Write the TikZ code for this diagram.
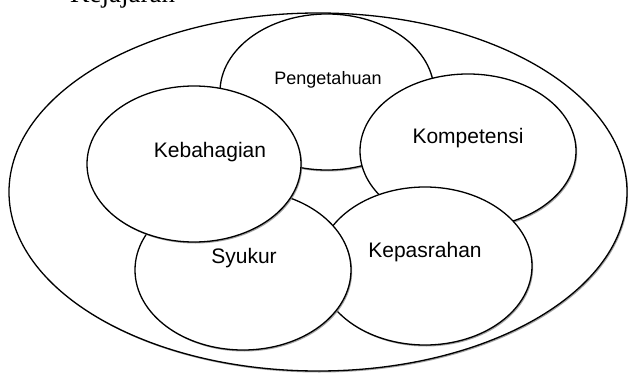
\documentclass[tikz,border=0pt]{standalone}
\usepackage{fontspec}
\setmainfont{Liberation Sans}
\newfontfamily\titlefont{Liberation Serif}
\usetikzlibrary{shapes.geometric,shadows}
\begin{document}
\begin{tikzpicture}[x=1pt,y=-1pt,
  ell/.style={ellipse, draw=black, line width=1.3pt, fill=white, inner sep=0pt,
    drop shadow={shadow xshift=1.2pt, shadow yshift=-1.5pt, fill=black!45, opacity=0.8}},
  lbl/.style={font=\fontsize{21}{23}\selectfont, inner sep=0pt},
  slbl/.style={font=\fontsize{18}{20}\selectfont, inner sep=0pt}]
\useasboundingbox (0,0) rectangle (628,374);
\clip (0,0) rectangle (628,374);
\fill[white] (0,0) rectangle (628,374);
\node[anchor=base west, inner sep=0pt, font=\titlefont\fontsize{27}{29}\selectfont] (title) at (70,3) {Kejajaran};
\node[ell, minimum width=618pt, minimum height=358pt] (big) at (318,192) {};
\node[ell, minimum width=214pt, minimum height=156pt] (pe) at (327,92) {};
\node[ell, minimum width=216pt, minimum height=154pt] (ko) at (468,151) {};
\node[ell, minimum width=214pt, minimum height=158pt] (ka) at (425,266) {};
\node[ell, minimum width=216pt, minimum height=160pt] (sy) at (243,270) {};
\node[ell, minimum width=214pt, minimum height=156pt] (kb) at (194,164) {};
\node[slbl] (tpe) at (328,80) {Pengetahuan};
\node[lbl] (tko) at (468,138) {Kompetensi};
\node[lbl] (tka) at (425,252) {Kepasrahan};
\node[lbl] (tsy) at (244,258) {Syukur};
\node[lbl] (tkb) at (210,152) {Kebahagian};
\end{tikzpicture}
\end{document}
